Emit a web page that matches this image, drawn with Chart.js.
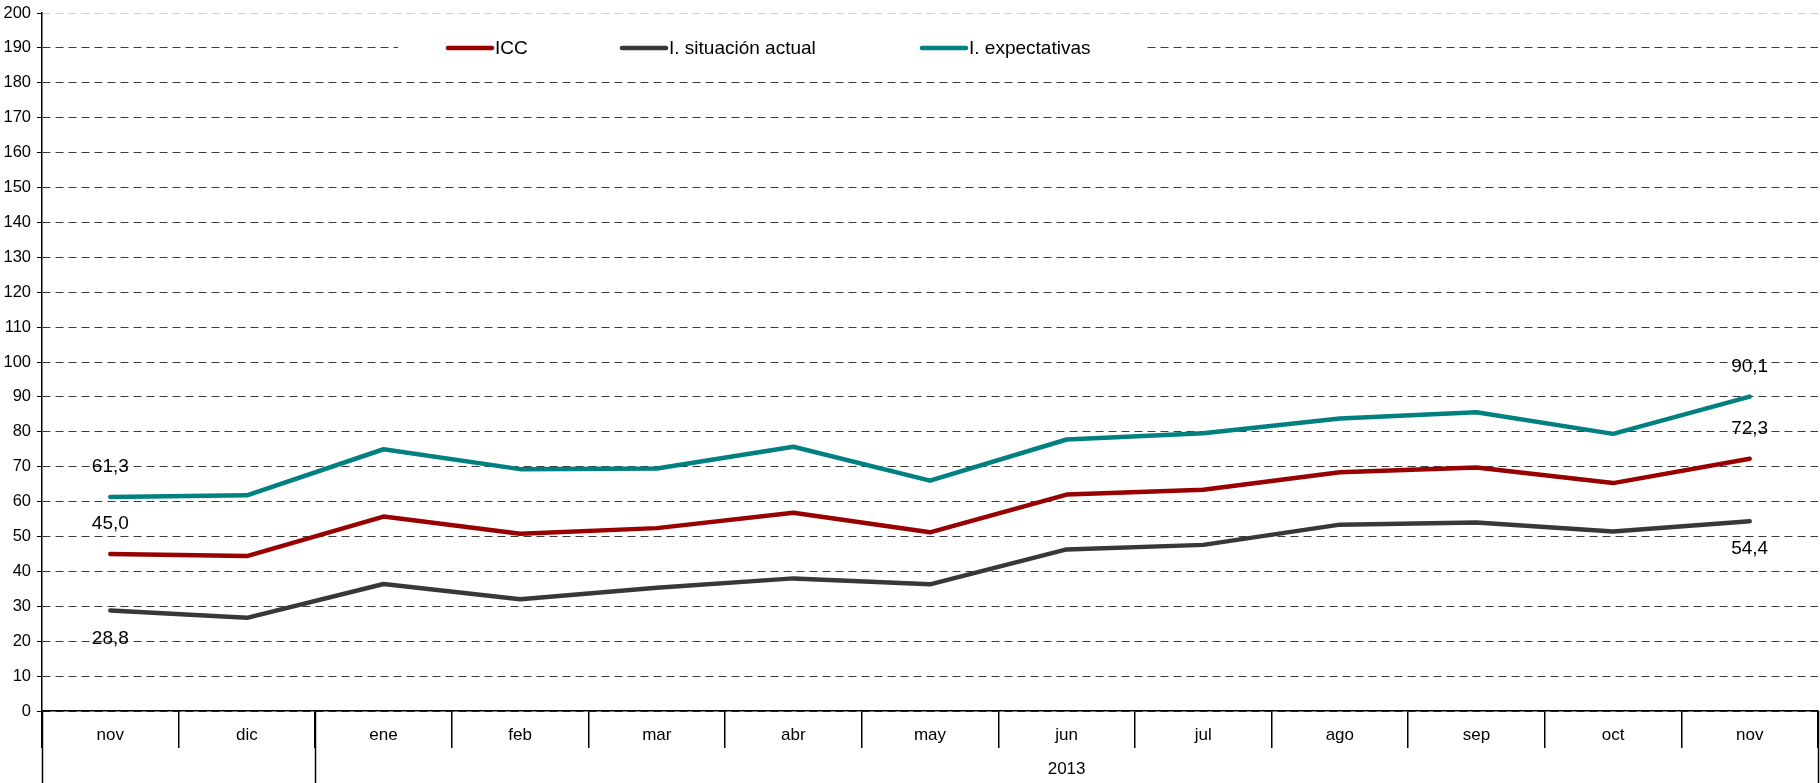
<!DOCTYPE html>
<html lang="es">
<head>
<meta charset="utf-8">
<title>ICC</title>
<script src="https://cdn.jsdelivr.net/npm/chart.js@4.4.1/dist/chart.umd.min.js"></script>
<style>
    html, body { margin: 0; padding: 0; background: #fff; }
    #contenedor { width: 1820px; height: 783px; position: relative; }
</style>
</head>
<body>
<div id="contenedor"><canvas id="grafico"></canvas></div>
<script>
// DATOS
const meses = ["nov", "dic", "ene", "feb", "mar", "abr", "may", "jun", "jul", "ago", "sep", "oct", "nov"];
const grupos = ["", "2013"];
const mesesPorGrupo = [2, 11];
const icc = [45.0, 44.4, 55.7, 50.8, 52.4, 56.8, 51.2, 62.0, 63.4, 68.4, 69.8, 65.3, 72.3];
const situacionActual = [28.8, 26.7, 36.4, 32.0, 35.3, 38.0, 36.3, 46.3, 47.6, 53.4, 54.0, 51.4, 54.4];
const expectativas = [61.3, 61.8, 75.0, 69.3, 69.5, 75.7, 66.0, 77.8, 79.6, 83.8, 85.6, 79.4, 90.1];
const ticksY = [0, 200, 10];
// ----------------

const FUENTE = "'Liberation Sans', Arial, sans-serif";
const formatoValor = (v) => v.toFixed(1).replace(".", ",");

// LEYENDA (dibujada dentro del area, con fondo blanco)
const leyenda = {
    id: "leyenda",
    afterDatasetsDraw(chart) {
        const ctx = chart.ctx;
        const inicios = [448, 622, 922];
        const yLey = 48;
        ctx.save();
        ctx.fillStyle = "#fff";
        ctx.fillRect(398, 33, 745, 30);
        ctx.font = "19px " + FUENTE;
        ctx.textBaseline = "middle";
        ctx.textAlign = "left";
        chart.data.datasets.forEach((ds, i) => {
            const x = inicios[i];
            ctx.strokeStyle = ds.borderColor;
            ctx.lineWidth = 4.5;
            ctx.lineCap = "round";
            ctx.beginPath();
            ctx.moveTo(x, yLey);
            ctx.lineTo(x + 44, yLey);
            ctx.stroke();
            ctx.fillStyle = "#000";
            ctx.fillText(ds.label, x + 47, yLey + 1);
        });
        ctx.restore();
    }
};

// ETIQUETAS del primer y ultimo punto
const etiquetas = {
    id: "etiquetas",
    afterDatasetsDraw(chart) {
        const ctx = chart.ctx;
        ctx.save();
        ctx.font = "19px " + FUENTE;
        ctx.fillStyle = "#000";
        ctx.textAlign = "center";
        ctx.textBaseline = "middle";
        chart.data.datasets.forEach((ds, i) => {
            const puntos = chart.getDatasetMeta(i).data;
            const desp = ds.etiqueta === "abajo" ? 28 : -30;
            [0, puntos.length - 1].forEach(j => {
                const p = puntos[j];
                ctx.fillText(formatoValor(ds.data[j]), p.x, p.y + desp);
            });
        });
        ctx.restore();
    }
};

// EJE X DE DOS NIVELES (separadores de grupo y año)
const ejeGrupos = {
    id: "ejeGrupos",
    afterDraw(chart) {
        const ctx = chart.ctx;
        const x = chart.scales.x;
        ctx.save();
        ctx.strokeStyle = "#000";
        ctx.lineWidth = 1.5;
        ctx.font = "17px " + FUENTE;
        ctx.fillStyle = "#000";
        ctx.textAlign = "center";
        ctx.textBaseline = "middle";
        let inicio = 0;
        const bordes = [x.left];
        mesesPorGrupo.forEach((n, g) => {
            const fin = inicio + n - 1;
            const izq = inicio === 0 ? x.left : (x.getPixelForValue(inicio - 1) + x.getPixelForValue(inicio)) / 2;
            const der = fin === meses.length - 1 ? x.right : (x.getPixelForValue(fin) + x.getPixelForValue(fin + 1)) / 2;
            bordes.push(der);
            if (grupos[g]) ctx.fillText(grupos[g], (izq + der) / 2, x.top + 58);
            inicio += n;
        });
        bordes.forEach(b => {
            const bx = Math.round(b) + 0.5;
            ctx.beginPath();
            ctx.moveTo(bx, x.top);
            ctx.lineTo(bx, chart.height);
            ctx.stroke();
        });
        ctx.restore();
    }
};

const datosGrafico = {
    labels: meses,
    datasets: [{
        label: "ICC",
        data: icc,
        borderColor: "#990000",
        etiqueta: "arriba"
    }, {
        label: "I. situación actual",
        data: situacionActual,
        borderColor: "#383838",
        etiqueta: "abajo"
    }, {
        label: "I. expectativas",
        data: expectativas,
        borderColor: "#008080",
        etiqueta: "arriba"
    }]
};

const configuracion = {
    type: "line",
    data: datosGrafico,
    options: {
        responsive: true,
        maintainAspectRatio: false,
        animation: false,
        layout: { padding: { top: 13, right: 2, left: 0, bottom: 0 } },
        elements: {
            line: { borderWidth: 4.5, tension: 0, borderCapStyle: "round", borderJoinStyle: "round" },
            point: { radius: 0, hoverRadius: 0 }
        },
        plugins: {
            legend: { display: false },
            tooltip: { enabled: false }
        },
        scales: {
            x: {
                offset: true,
                grid: {
                    offset: true,
                    drawOnChartArea: false,
                    drawTicks: true,
                    tickLength: 37,
                    color: "#000",
                    tickColor: "#000",
                    lineWidth: 1.5
                },
                border: { display: true, color: "#000", width: 1.5 },
                ticks: {
                    color: "#000",
                    font: { family: FUENTE, size: 17 },
                    padding: -23,
                    maxRotation: 0,
                    autoSkip: false
                },
                afterFit: (escala) => { escala.height = 72; escala.paddingLeft = 0; escala.paddingRight = 0; }
            },
            y: {
                min: ticksY[0],
                max: ticksY[1],
                grid: {
                    color: (c) => c.tick && c.tick.value === ticksY[1] ? "#d0d0d0" : "#3a3a3a",
                    tickColor: "#000",
                    tickLength: 5,
                    lineWidth: 1
                },
                border: { display: true, color: "#000", width: 1.5, dash: [8, 5] },
                ticks: {
                    stepSize: ticksY[2],
                    color: "#000",
                    font: { family: FUENTE, size: 16.5 },
                    padding: 6
                },
                afterFit: (escala) => { escala.width = 42; escala.paddingTop = 0; escala.paddingBottom = 0; }
            }
        }
    },
    plugins: [leyenda, etiquetas, ejeGrupos]
};

const lienzo = document.getElementById("grafico");
const grafico = new Chart(lienzo, configuracion);
</script>
</body>
</html>
